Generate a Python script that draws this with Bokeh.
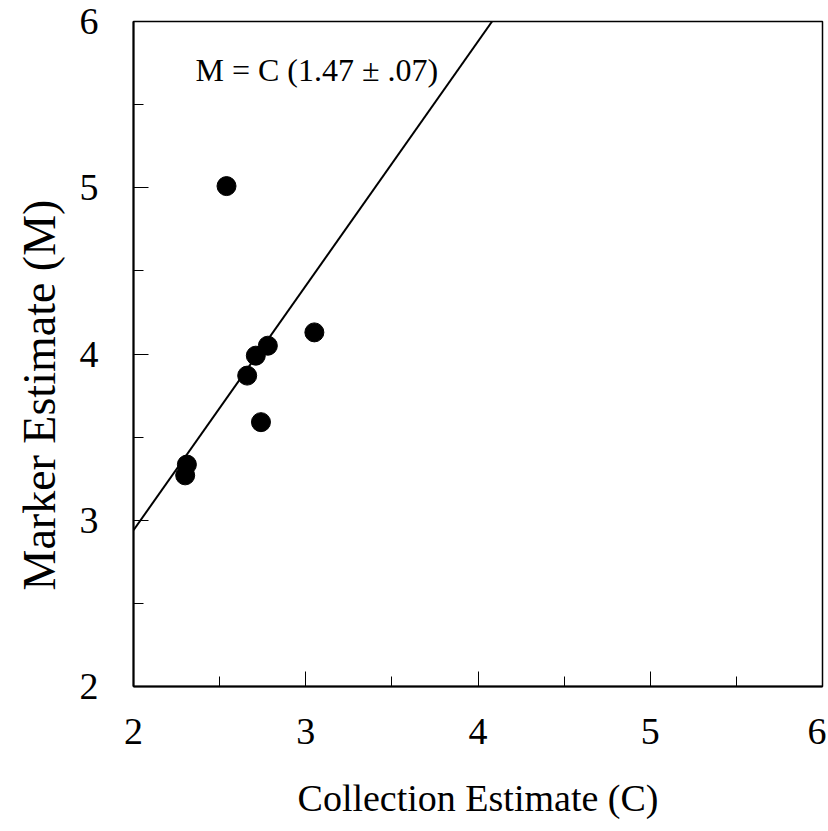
from bokeh.plotting import figure
from bokeh.models import Range1d, FixedTicker, Label, Title
from bokeh.embed import file_html
from bokeh.resources import INLINE

# Data
collection = [2.54, 3.05, 2.78, 2.71, 2.66, 2.74, 2.31, 2.30]
marker = [5.01, 4.13, 4.05, 3.99, 3.87, 3.59, 3.335, 3.27]
slope = 1.47
slope_err = 0.07
major_ticks = [2, 3, 4, 5, 6]
minor_ticks = [2.5, 3.5, 4.5, 5.5]
x_label = "Collection Estimate (C)"
y_label = "Marker Estimate (M)"

FONT = "Liberation Serif"

p = figure(width=826, height=829, output_backend="svg", toolbar_location=None,
           x_range=Range1d(2, 6), y_range=Range1d(2, 6),
           min_border_left=133, min_border_right=4, min_border_top=21,
           min_border_bottom=143, background_fill_color="white",
           border_fill_color="white")

p.grid.visible = False
p.outline_line_color = "black"
p.outline_line_width = 1.5

for ax in (p.xaxis, p.yaxis):
    ax.ticker = FixedTicker(ticks=major_ticks, minor_ticks=minor_ticks)
    ax.axis_line_color = "black"
    ax.axis_line_width = 2
    ax.major_tick_in = 15
    ax.major_tick_out = 0
    ax.minor_tick_in = 10
    ax.minor_tick_out = 0
    ax.major_tick_line_color = "black"
    ax.minor_tick_line_color = "black"
    ax.major_label_text_font = FONT
    ax.major_label_text_font_size = "38px"
    ax.major_label_text_color = "black"
    ax.axis_label_text_font = FONT
    ax.axis_label_text_font_style = "normal"
    ax.axis_label_text_color = "black"

p.xaxis.axis_label = x_label
p.xaxis.major_label_standoff = 32
p.yaxis.major_label_standoff = 35
p.xaxis.axis_label_text_font_size = "38px"
p.xaxis.axis_label_standoff = 30

# y-axis title, placed like the reference (somewhat below the frame centre)
p.add_layout(Title(text=y_label, align="left", offset=96, standoff=23,
                   text_font=FONT, text_font_size="46px", text_font_style="normal",
                   text_color="black"), "left")

# Fitted line M = slope * C, clipped at the top of the plot
fit_x = [2.0, 6.0 / slope]
fit_y = [slope * x for x in fit_x]
p.line(fit_x, fit_y, line_color="black", line_width=2)

p.scatter(collection, marker, size=19, fill_color="black", line_color="black")

err_txt = ("%.2f" % slope_err).lstrip("0")
p.add_layout(Label(x=2.36, y=5.71, text=f"M = C ({slope:.2f} \u00b1 {err_txt})",
                   text_font=FONT, text_font_size="32px", text_color="black",
                   text_baseline="alphabetic"))

open("out.html", "w").write(file_html(p, INLINE))
